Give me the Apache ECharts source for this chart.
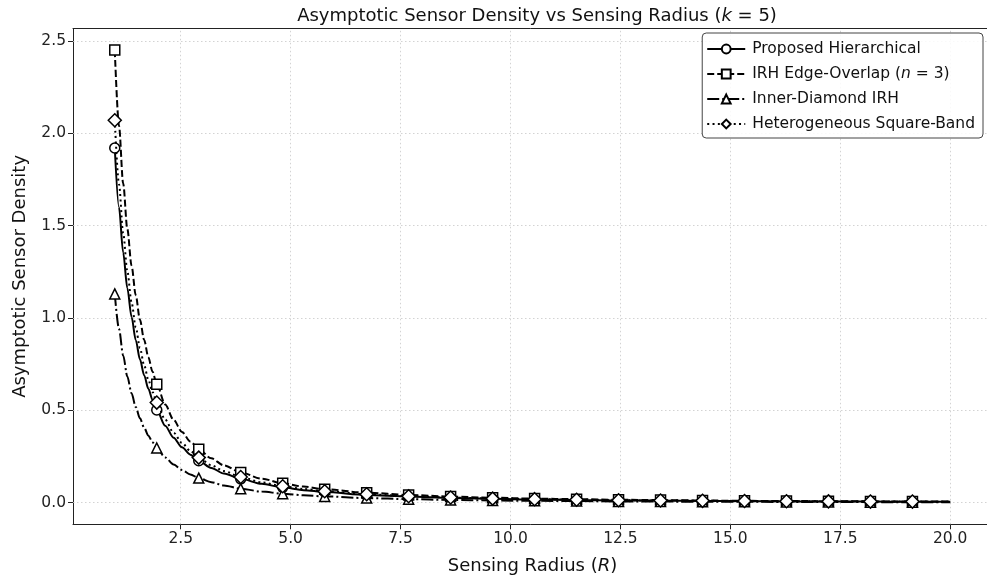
<!DOCTYPE html>
<html>
<head>
<meta charset="utf-8">
<script src="https://cdn.jsdelivr.net/npm/echarts@6/dist/echarts.min.js"></script>
<style>
html,body{margin:0;padding:0;background:#fff;}
#chart{width:987px;height:579px;}
</style>
</head>
<body>
<div id="chart"></div>
<script>
// Sensing radius samples (R)
const radius = [1.000, 1.096, 1.191, 1.286, 1.382, 1.477, 1.573, 1.668, 1.764, 1.859, 1.955, 2.146, 2.337, 2.528, 2.719, 2.910, 3.196, 3.482, 3.864, 4.341, 4.819, 5.296, 5.774, 6.729, 7.683, 8.638, 9.593, 10.548, 11.503, 12.457, 13.412, 14.367, 15.322, 16.276, 17.231, 18.186, 19.141, 20.000];
// Radii at which markers are drawn
const markerRadius = [1.000, 1.955, 2.910, 3.864, 4.819, 5.774, 6.729, 7.683, 8.638, 9.593, 10.548, 11.503, 12.457, 13.412, 14.367, 15.322, 16.276, 17.231, 18.186, 19.141];

const proposed = [1.920, 1.599, 1.354, 1.161, 1.005, 0.880, 0.776, 0.690, 0.617, 0.556, 0.502, 0.417, 0.352, 0.300, 0.260, 0.227, 0.188, 0.158, 0.129, 0.102, 0.083, 0.068, 0.058, 0.042, 0.033, 0.026, 0.021, 0.017, 0.015, 0.012, 0.011, 0.009, 0.008, 0.007, 0.006, 0.006, 0.005, 0.005];
const irhEdge = [2.450, 2.040, 1.728, 1.481, 1.283, 1.123, 0.990, 0.881, 0.787, 0.709, 0.641, 0.532, 0.449, 0.383, 0.331, 0.289, 0.240, 0.202, 0.164, 0.130, 0.105, 0.087, 0.073, 0.054, 0.042, 0.033, 0.027, 0.022, 0.019, 0.016, 0.014, 0.012, 0.010, 0.009, 0.008, 0.007, 0.007, 0.006];
const innerDiamond = [1.130, 0.941, 0.797, 0.683, 0.592, 0.518, 0.457, 0.406, 0.363, 0.327, 0.296, 0.245, 0.207, 0.177, 0.153, 0.133, 0.111, 0.093, 0.076, 0.060, 0.049, 0.040, 0.034, 0.025, 0.019, 0.015, 0.012, 0.010, 0.009, 0.007, 0.006, 0.005, 0.005, 0.004, 0.004, 0.003, 0.003, 0.003];
const heteroBand = [2.070, 1.724, 1.460, 1.252, 1.084, 0.949, 0.837, 0.744, 0.665, 0.599, 0.542, 0.450, 0.379, 0.324, 0.280, 0.244, 0.203, 0.171, 0.139, 0.110, 0.089, 0.074, 0.062, 0.046, 0.035, 0.028, 0.022, 0.019, 0.016, 0.013, 0.012, 0.010, 0.009, 0.008, 0.007, 0.006, 0.006, 0.005];

const seriesNames = ['Proposed Hierarchical', 'IRH Edge-Overlap (n = 3)', 'Inner-Diamond IRH', 'Heterogeneous Square-Band'];
const xTicks = [2.5, 5.0, 7.5, 10.0, 12.5, 15.0, 17.5, 20.0];
const yTicks = [0.0, 0.5, 1.0, 1.5, 2.0, 2.5];

const FONT = 'DejaVu Sans';
const chart = echarts.init(document.getElementById('chart'), null, {renderer: 'canvas'});

function mkData(ys) {
  return radius.map((x, i) => {
    const isM = markerRadius.indexOf(x) >= 0;
    return isM ? {value: [x, ys[i]]} : {value: [x, ys[i]], symbol: 'none'};
  });
}

function mkSeries(name, ys, symbol, size, dash, z) {
  return {
    name: name, type: 'line', data: mkData(ys),
    symbol: symbol, symbolSize: size, showAllSymbol: true,
    smooth: 0.3, smoothMonotone: 'x',
    lineStyle: {color: '#000', width: 2, type: dash},
    itemStyle: {color: '#fff', borderColor: '#000', borderWidth: 1.5},
    emphasis: {disabled: true},
    z: z, animation: false
  };
}

const gridMarkX = xTicks.map(v => ({xAxis: v}));
const gridMarkY = yTicks.map(v => ({yAxis: v}));

const series = [
  mkSeries(seriesNames[0], proposed, 'circle', 10, 'solid', 3),
  mkSeries(seriesNames[1], irhEdge, 'rect', 10, [7, 3], 4),
  mkSeries(seriesNames[2], innerDiamond, 'triangle', 10, [12, 3, 2, 3], 5),
  mkSeries(seriesNames[3], heteroBand, 'diamond', 13, [2, 3.3], 6)
];
// grid lines drawn through the axis scales
series[0].markLine = {
  silent: true, symbol: 'none', label: {show: false}, animation: false,
  lineStyle: {color: '#c8c8c8', width: 0.8, type: [1.5, 2.5]},
  data: gridMarkX.concat(gridMarkY),
  z: 1
};

const option = {
  backgroundColor: '#fff',
  animation: false,
  title: {
    text: 'Asymptotic Sensor Density vs Sensing Radius ({i|k} = 5)',
    left: 532, top: 2, textAlign: 'center',
    textStyle: {fontFamily: FONT, fontSize: 18, fontWeight: 'normal', color: '#111',
      rich: {i: {fontFamily: FONT, fontSize: 18, fontStyle: 'italic', color: '#111'}}}
  },
  grid: {left: 73, right: -5, top: 28.5, bottom: 54.7, containLabel: false, outerBoundsMode: 'none'},
  legend: {
    orient: 'vertical', right: 4, top: 33,
    data: seriesNames,
    itemWidth: 38, itemHeight: 11, itemGap: 9,
    padding: [8, 8, 6, 4],
    borderColor: '#444', borderWidth: 1, borderRadius: 4,
    backgroundColor: 'rgba(255,255,255,0.85)',
    formatter: function (n) { return n === seriesNames[1] ? 'IRH Edge-Overlap ({i|n} = 3)' : n; },
    textStyle: {fontFamily: FONT, fontSize: 15.5, color: '#111', padding: [0, 0, 0, 2],
      rich: {i: {fontFamily: FONT, fontSize: 15.5, fontStyle: 'italic', color: '#111'}}}
  },
  xAxis: [{
    type: 'value', min: 0.05, max: 20.95,
    name: 'Sensing Radius ({i|R})', nameLocation: 'middle', nameGap: 33,
    nameTextStyle: {fontFamily: FONT, fontSize: 18, color: '#111',
      rich: {i: {fontFamily: FONT, fontSize: 18, fontStyle: 'italic', color: '#111'}}},
    axisLine: {show: true, onZero: false, lineStyle: {color: '#222', width: 1}},
    axisTick: {show: true, inside: false, length: 5, customValues: xTicks, lineStyle: {color: '#222'}},
    axisLabel: {customValues: xTicks, fontFamily: FONT, fontSize: 15.5, color: '#222', margin: 7,
      formatter: v => v.toFixed(1)},
    splitLine: {show: false}
  }, {
    type: 'value', min: 0.05, max: 20.95, position: 'top',
    axisLine: {show: true, onZero: false, lineStyle: {color: '#222', width: 1}},
    axisTick: {show: false}, axisLabel: {show: false}, splitLine: {show: false}
  }],
  yAxis: [{
    type: 'value', min: -0.117, max: 2.567,
    name: 'Asymptotic Sensor Density', nameLocation: 'middle', nameGap: 44, nameRotate: 90,
    nameTextStyle: {fontFamily: FONT, fontSize: 18, color: '#111'},
    axisLine: {show: true, onZero: false, lineStyle: {color: '#222', width: 1}},
    axisTick: {show: true, inside: false, length: 5, customValues: yTicks, lineStyle: {color: '#222'}},
    axisLabel: {customValues: yTicks, fontFamily: FONT, fontSize: 15.5, color: '#222', margin: 7,
      formatter: v => v.toFixed(1)},
    splitLine: {show: false}
  }],
  series: series
};
chart.setOption(option);
</script>
</body>
</html>
